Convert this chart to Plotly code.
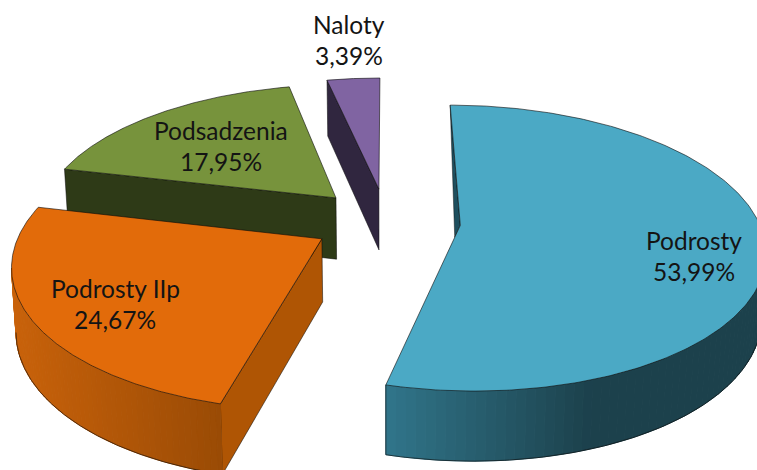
import numpy as np
import plotly.graph_objects as go

categories = ["Podrosty", "Podrosty IIp", "Podsadzenia", "Naloty"]
values = [53.99, 24.67, 17.95, 3.39]
value_labels = ["53,99%", "24,67%", "17,95%", "3,39%"]

W, H = 757, 470
TOP = ["#4BA9C5", "#E26B0A", "#77933C", "#8064A2"]
WALL_A = ["#31758A", "#C9620A", None, None]
WALL_B = ["#1C414C", "#9A4B05", None, None]
SIDE = ["#1E4F5E", "#AF5504", "#2E3A17", "#30263F"]
LABEL_POS = [(694, 256), (115, 304), (221, 146), (349, 40)]

# perspective of the ground plane
CX, YH, F = 386.5, -650.0, 1974.0
ZC, EXPL_U, EXPL_Z, RU, RZ = 2.266, 0.085, 0.087, 0.3425, 0.359
N = 240


def proj(u, z, low=False):
    u, z = np.asarray(u, float), np.asarray(z, float)
    x = CX + F * u / z
    y = YH + F / z
    if low:
        y = y + 22.6 + 90.0 / z
        x = x + (CX - x) * 0.012
    return x, y


def slices():
    out, start = [], 0.0
    total = sum(values)
    for v in values:
        sweep = v / total * 360.0
        mid = np.radians(start + sweep / 2)
        au, az = EXPL_U * np.sin(mid), ZC + EXPL_Z * np.cos(mid)
        th = np.radians(np.linspace(start, start + sweep, N))
        ru, rz = au + RU * np.sin(th), az + RZ * np.cos(th)
        out.append((au, az, ru, rz))
        start += sweep
    return out


fig = go.Figure()


def poly(x, y, fill, line=None, lw=1.0):
    fig.add_trace(go.Scatter(
        x=list(x), y=list(y), mode="lines", fill="toself", fillcolor=fill,
        line=dict(color=line or fill, width=lw), hoverinfo="skip", showlegend=False))


def mix(a, b, t):
    ca = [int(a[i:i + 2], 16) for i in (1, 3, 5)]
    cb = [int(b[i:i + 2], 16) for i in (1, 3, 5)]
    return "rgb(%d,%d,%d)" % tuple(round(p + (q - p) * t) for p, q in zip(ca, cb))


EDGE = "rgba(10,10,10,0.75)"
geo = slices()


def top_face(i):
    au, az, ru, rz = geo[i]
    x, y = proj(np.r_[au, ru, au], np.r_[az, rz, az])
    poly(x, y, TOP[i], EDGE, 0.8)


def radial_wall(i, end):
    au, az, ru, rz = geo[i]
    u = np.array([au, ru[end]])
    z = np.array([az, rz[end]])
    xt, yt = proj(u, z)
    xb, yb = proj(u, z, True)
    poly(np.r_[xt, xb[::-1], xt[0]], np.r_[yt, yb[::-1], yt[0]], SIDE[i], EDGE, 0.7)


def outer_wall(i, order, x_light, x_dark):
    au, az, ru, rz = geo[i]
    xt, yt = proj(ru, rz)
    xb, yb = proj(ru, rz, True)
    order = list(order)
    strip = max(1, len(order) // 45)
    keys = order[::strip]
    if keys[-1] != order[-1]:
        keys.append(order[-1])
    for a, b in zip(keys[:-1], keys[1:]):
        t = float(np.clip((0.5 * (xt[a] + xt[b]) - x_light) / (x_dark - x_light), 0, 1))
        seg = order[order.index(a):order.index(b) + 1]
        poly(np.r_[xt[seg], xb[seg][::-1], xt[seg[0]]], np.r_[yt[seg], yb[seg][::-1], yt[seg[0]]],
             mix(WALL_A[i], WALL_B[i], t))
    fig.add_trace(go.Scatter(
        x=list(xb[order]), y=list(yb[order]),
        mode="lines", line=dict(color=EDGE, width=0.8), hoverinfo="skip", showlegend=False))


def silhouette(i, fn):
    au, az, ru, rz = geo[i]
    return int(fn(proj(ru, rz)[0]))


# Podsadzenia: left radial wall, then face
radial_wall(2, 0)
top_face(2)
# Naloty
radial_wall(3, 0)
top_face(3)
# Podrosty IIp
radial_wall(1, 0)
s1 = silhouette(1, np.argmin)
x1 = proj(geo[1][2], geo[1][3])[0]
outer_wall(1, range(s1, -1, -1), x1[s1], x1[0])
top_face(1)
# Podrosty: sliver of the inner wall, outer wall, face
au, az, ru, rz = geo[0]
xa, ya = proj(au, az)
xs, ys = proj(ru[0], rz[0])
xe, ye = proj(ru[-1], rz[-1])
poly([xs, xa, xa + 0.075 * (xe - xa), xs], [ys, ya, ya + 0.075 * (ye - ya), ys], SIDE[0], EDGE, 0.6)
s0 = silhouette(0, np.argmax)
outer_wall(0, range(s0, N), xe, 590)
xb_e, yb_e = proj([ru[-1]], [rz[-1]], True)
fig.add_trace(go.Scatter(x=[xe, xb_e[0]], y=[ye, yb_e[0]], mode="lines",
                         line=dict(color=EDGE, width=0.8), hoverinfo="skip", showlegend=False))
top_face(0)

for name, val, (lx, ly) in zip(categories, value_labels, LABEL_POS):
    for dy, txt in ((-15.5, name), (15.5, val)):
        fig.add_annotation(x=lx, y=ly + dy, text=txt, showarrow=False, xanchor="center", yanchor="middle",
                           font=dict(family="Lato", size=24.5, color="#141414"))

fig.update_layout(
    width=W, height=H, margin=dict(l=0, r=0, t=0, b=0),
    paper_bgcolor="white", plot_bgcolor="white", showlegend=False,
    xaxis=dict(range=[0, W], visible=False, fixedrange=True),
    yaxis=dict(range=[H, 0], visible=False, fixedrange=True),
)
fig.write_html("out.html", config=dict(displayModeBar=False),
               post_script="document.body.style.margin='0';document.documentElement.style.overflow='hidden';")
